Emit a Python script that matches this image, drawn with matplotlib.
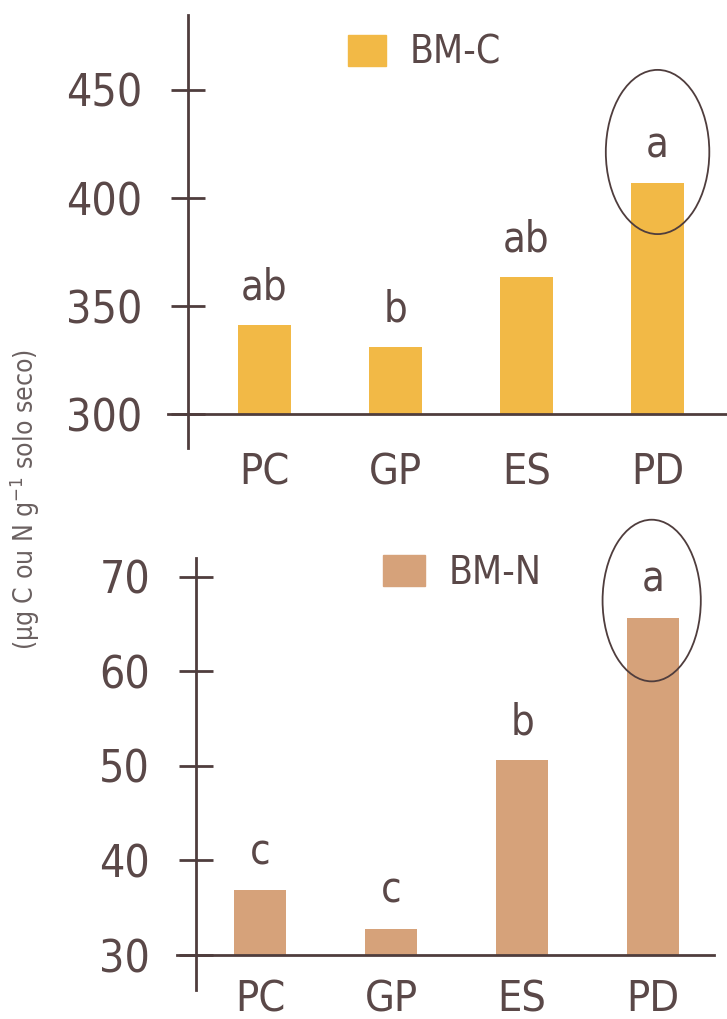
import matplotlib
matplotlib.use('Agg')
import matplotlib.pyplot as plt
from matplotlib import font_manager as fm
from matplotlib.patches import Ellipse, Patch

# look for a narrow / condensed face, the original uses a condensed grotesk
font_name, font_stretch = 'Liberation Sans', 'normal'
for f in fm.fontManager.ttflist:
    st = str(f.stretch).lower()
    if 'narrow' in f.name.lower() or 'condensed' in f.name.lower() or 'condensed' in st:
        if f.style == 'normal' and f.weight in (400, 'normal', 'regular'):
            font_name, font_stretch = f.name, f.stretch
            break
plt.rcParams['font.family'] = [font_name, 'DejaVu Sans']
plt.rcParams['font.stretch'] = font_stretch

categories = ["PC", "GP", "ES", "PD"]
bmc_values = [341, 331, 363.5, 407]
bmn_values = [36.9, 32.8, 50.6, 65.7]
bmc_letters = ["ab", "b", "ab", "a"]
bmn_letters = ["c", "c", "b", "a"]
bmc_ticks = [300, 350, 400, 450]
bmn_ticks = [30, 40, 50, 60, 70]

INK = '#4f3d3d'
TXT = '#5a4848'
BMC_COLOR = '#f2b946'
BMN_COLOR = '#d6a27a'

W, H = 727, 1019
fig = plt.figure(figsize=(W / 100, H / 100), dpi=100)


def px_axes(x0, y0, x1, y1):
    # pixel box (top-left origin) -> axes
    return fig.add_axes([x0 / W, 1 - y1 / H, (x1 - x0) / W, (y1 - y0) / H])


def panel(ax, values, letters, ticks, color, ylim, xlim, base, label_y,
          base_left, base_right, legend_name, legend_xy, ell, hsize):
    x = range(len(categories))
    ax.bar(x, [v - base for v in values], width=0.40, bottom=base,
           color=color, zorder=2)
    ax.set_xlim(*xlim)
    ax.set_ylim(*ylim)
    ax.patch.set_alpha(0)
    for s in ['top', 'right', 'bottom']:
        ax.spines[s].set_visible(False)
    ax.spines['left'].set_color(INK)
    ax.spines['left'].set_linewidth(2.0)
    ax.set_xticks([])
    ax.set_yticks(ticks)
    ax.tick_params(axis='y', direction='inout', length=24, width=2.0,
                   color=INK, labelcolor=TXT, labelsize=32, pad=21)
    ax.axhline(base, xmin=base_left, xmax=base_right, color=INK, lw=2.0,
               clip_on=False, zorder=3)
    for i, (v, lt) in enumerate(zip(values, letters)):
        ax.annotate(lt, (i, v), xytext=(0, 12), textcoords='offset points',
                    ha='center', va='bottom', fontsize=30, color=TXT)
        ax.text(i, label_y, categories[i], ha='center', va='center',
                fontsize=31, color=TXT, clip_on=False)
    ax.add_patch(Ellipse(ell[:2], ell[2], ell[3], fill=False, ec=INK,
                         lw=1.3, clip_on=False, zorder=4))
    ax.legend(handles=[Patch(color=color, label=legend_name)],
              loc='center left', bbox_to_anchor=legend_xy,
              bbox_transform=fig.transFigure, frameon=False,
              fontsize=28, labelcolor=TXT, handlelength=hsize[0],
              handleheight=hsize[1], handletextpad=0.6, borderpad=0,
              borderaxespad=0)


ax1 = px_axes(188, 15, 727, 448)
panel(ax1, bmc_values, bmc_letters, bmc_ticks, BMC_COLOR,
      (284.3, 484.7), (-0.584, 3.53), 300, 273,
      -20 / 539, 1.0, 'BM-C', (348 / W, 1 - 53 / H),
      (3.0, 421.3, 0.79, 76), (0.98, 0.82))

ax2 = px_axes(196, 558, 727, 990)
panel(ax2, bmn_values, bmn_letters, bmn_ticks, BMN_COLOR,
      (26.3, 72.0), (-0.489, 3.565), 30, 25.3,
      -19 / 531, 518 / 531, 'BM-N', (383 / W, 1 - 573 / H),
      (2.99, 67.5, 0.75, 17.1), (1.08, 0.87))

fig.text(25 / W, 1 - 500 / H, '(µg C ou N g$^{-1}$ solo seco)', rotation=90,
         ha='center', va='center', fontsize=19, color='#6a6060')

fig.savefig('out.png', dpi=100)
